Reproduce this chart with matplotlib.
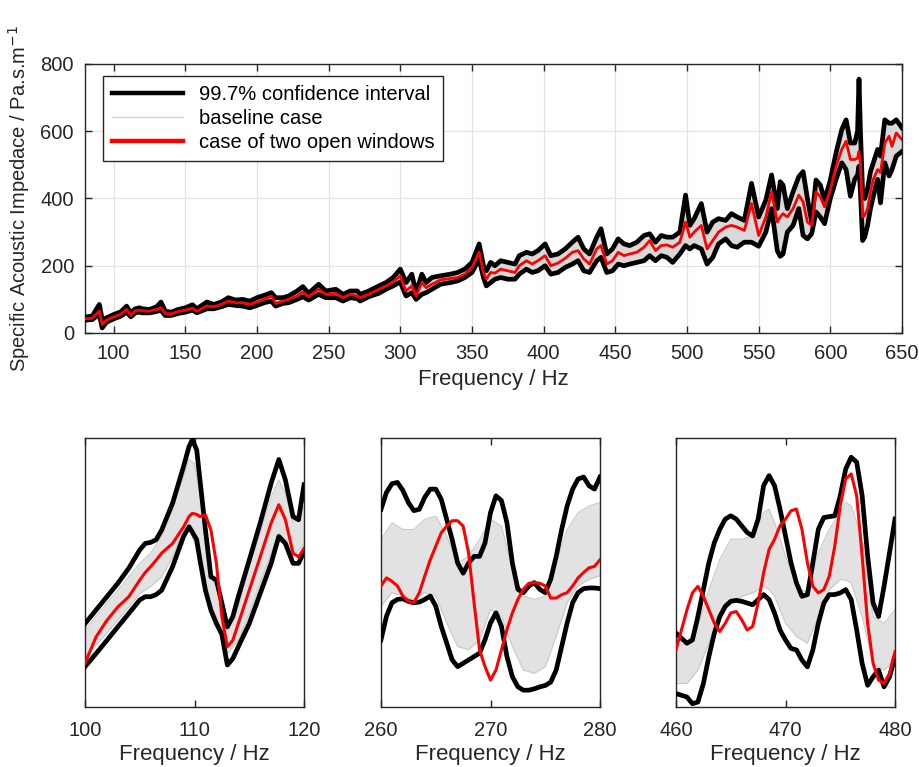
import matplotlib
matplotlib.use("Agg")
import matplotlib.pyplot as plt
from matplotlib.lines import Line2D

plt.rcParams['font.family'] = ['Liberation Sans', 'DejaVu Sans']

# ---------------- main panel data (80-650 Hz) ----------------
main_freq = [80, 85, 90, 92, 95, 100, 105, 109, 112, 115, 118, 120, 125, 130, 133, 136, 140, 145,
             150, 155, 158, 165, 170, 175, 180, 185, 190, 195, 200, 205, 210, 213, 218, 222, 228,
             232, 236, 243, 248, 255, 260, 265, 270, 272, 278, 285, 290, 295, 300, 302, 304, 308,
             311, 315, 318, 322, 328, 335, 340, 345, 350, 355, 358, 360, 363, 366, 370, 375, 380,
             383, 388, 392, 396, 401, 405, 410, 415, 420, 424, 428, 432, 437, 440, 444, 448, 452,
             456, 460, 465, 470, 474, 478, 482, 486, 490, 495, 499, 502, 505, 510, 514, 518, 522,
             527, 531, 535, 540, 545, 550, 555, 559, 563, 565, 567, 570, 574, 578, 581, 584, 587,
             590, 593, 596, 600, 604, 608, 611, 614, 617, 619, 620, 621, 622.5, 624, 626, 628,
             630, 633, 635, 638, 641, 643, 646, 650]
main_upper = [48, 50, 85, 40, 45, 55, 63, 80, 60, 72, 75, 72, 70, 78, 92, 65, 62, 70,
              75, 84, 72, 92, 85, 92, 105, 98, 100, 95, 105, 112, 120, 105, 105, 110, 125,
              138, 118, 145, 125, 130, 115, 125, 125, 115, 125, 140, 150, 165, 190, 170, 150, 175,
              120, 175, 150, 165, 170, 175, 180, 190, 210, 265, 200, 185, 210, 200, 215, 210, 205,
              230, 240, 235, 245, 265, 230, 235, 250, 270, 285, 250, 235, 285, 310, 235, 250, 280,
              265, 260, 270, 290, 295, 270, 290, 285, 285, 300, 410, 320, 340, 385, 300, 330, 340,
              335, 355, 345, 335, 445, 345, 395, 470, 370, 450, 440, 370, 420, 465, 480, 400, 330,
              455, 440, 395, 455, 536, 605, 634, 565, 565, 600, 755, 600, 420, 400, 430, 480,
              506, 546, 526, 634, 624, 624, 634, 610]
main_lower = [38, 40, 55, 15, 32, 42, 50, 62, 48, 60, 62, 60, 60, 64, 68, 52, 52, 58,
              62, 68, 60, 72, 72, 78, 85, 82, 80, 75, 82, 90, 95, 80, 88, 90, 100,
              108, 98, 115, 105, 105, 95, 105, 102, 95, 108, 118, 130, 140, 152, 130, 110, 120,
              100, 115, 120, 130, 145, 150, 155, 165, 180, 220, 165, 140, 150, 160, 165, 160, 160,
              175, 190, 180, 185, 200, 175, 180, 195, 205, 215, 185, 180, 215, 225, 180, 185, 205,
              200, 205, 210, 215, 230, 215, 230, 225, 210, 235, 260, 250, 260, 250, 205, 225, 265,
              280, 260, 255, 270, 270, 258, 300, 370, 245, 228, 235, 300, 320, 370, 290, 280, 295,
              360, 345, 325, 400, 457, 506, 486, 407, 457, 470, 496, 420, 275, 285, 320, 370,
              407, 457, 387, 506, 467, 486, 526, 540]
main_red = [42, 44, 65, 25, 38, 48, 56, 70, 52, 66, 68, 66, 65, 70, 75, 58, 57, 64,
            68, 74, 65, 80, 78, 85, 95, 90, 90, 85, 92, 100, 110, 88, 95, 100, 110,
            122, 108, 130, 115, 118, 105, 115, 110, 105, 115, 130, 140, 152, 170, 145, 125, 140,
            110, 150, 135, 145, 158, 162, 165, 175, 195, 240, 180, 160, 180, 178, 190, 185, 180,
            200, 215, 205, 215, 230, 200, 208, 222, 240, 245, 220, 205, 250, 260, 205, 215, 240,
            230, 235, 240, 255, 275, 245, 260, 262, 255, 270, 330, 285, 300, 320, 250, 275, 300,
            315, 320, 315, 305, 385, 290, 345, 420, 330, 345, 355, 345, 370, 410, 390, 330, 320,
            420, 405, 375, 425, 496, 546, 570, 516, 516, 520, 540, 500, 345, 350, 370, 420,
            457, 486, 477, 565, 585, 555, 595, 575]

# ---------------- inset 1 (100-120 Hz) ----------------
in1_freq = [100, 101, 102, 103, 104, 105, 105.5, 106, 106.5, 107, 108, 109, 109.5, 109.8, 110.2,
            110.5, 111, 111.5, 112, 112.5, 113, 113.5, 114, 115, 116, 117, 117.7, 118.3, 119, 119.5, 120]
in1_upper = [50.5, 53.0, 55.5, 58.0, 60.8, 64.2, 65.4, 65.6, 66.1, 67.9, 72.9, 79.7, 83.4, 84.7, 82.8,
             77.2, 67.9, 59.2, 58.6, 54.3, 49.9, 51.8, 55.5, 62.3, 69.2, 76.6, 81.0, 77.2, 70.4, 69.8, 76.3]
in1_lower = [42.5, 44.9, 47.4, 49.9, 52.4, 54.9, 55.5, 55.5, 55.9, 56.7, 61.1, 66.7, 68.5, 67.5, 66.1,
             62.3, 56.7, 53.0, 50.5, 48.5, 42.8, 44.0, 46.2, 50.5, 56.1, 61.7, 66.7, 65.4, 61.7, 61.7, 63.9]
in1_red = [43.1, 48.0, 51.1, 53.6, 55.5, 58.6, 60.0, 61.1, 62.3, 63.6, 65.4, 68.5, 70.4, 71.0, 70.8,
           70.4, 70.7, 67.9, 61.7, 51.8, 46.2, 47.4, 50.5, 56.7, 62.9, 69.2, 72.6, 69.8, 63.6, 62.9, 64.5]
in1_grey_freq = [100, 102, 104, 105, 106, 107, 108, 109, 109.5, 110, 110.5, 111, 111.5, 112, 112.5,
                 113, 114, 115, 116, 117, 117.7, 118.3, 119, 120]
in1_grey_top = [49.3, 54.3, 59.2, 61.7, 63.6, 66.7, 71.6, 77.8, 81.0, 80.3, 74.1, 66.1, 59.2, 57.4, 53.0,
                49.3, 53.6, 61.1, 67.3, 74.1, 77.2, 74.7, 69.2, 72.2]
in1_grey_bot = [44.3, 48.7, 53.6, 56.1, 57.4, 59.2, 62.9, 67.9, 68.5, 65.4, 61.7, 57.4, 53.6, 51.8, 49.3,
                44.9, 47.4, 52.4, 58.0, 63.6, 67.3, 66.1, 62.9, 65.4]

# ---------------- inset 2 (260-280 Hz) ----------------
in2_freq = [260 + 0.5 * i for i in range(41)]
in2_upper = [124.4, 126.9, 128.2, 128.4, 127.2, 125.4, 124.2, 124.4, 126.2, 127.4, 127.4, 125.9, 122.9,
             119.9, 116.4, 114.9, 116.4, 117.4, 117.4, 119.4, 123.9, 126.4, 125.7, 122.4, 116.4, 112.5,
             112.0, 113.0, 113.5, 112.5, 112.0, 114.0, 117.4, 121.4, 124.9, 127.4, 128.9, 129.2, 127.9,
             127.4, 129.2]
in2_lower = [105.0, 108.5, 110.5, 111.0, 111.1, 110.7, 110.5, 110.6, 111.0, 111.5, 110.0, 107.0, 104.5,
             102.0, 101.0, 101.5, 102.0, 102.5, 103.0, 105.0, 107.5, 109.0, 107.0, 102.5, 99.5, 98.0,
             97.5, 97.5, 97.7, 98.0, 98.2, 98.7, 100.5, 104.0, 107.5, 110.5, 112.0, 112.6, 112.7,
             112.7, 112.6]
in2_red = [113.0, 114.2, 113.7, 113.0, 111.5, 110.7, 110.5, 112.0, 114.5, 116.9, 118.9, 120.9, 121.9,
           122.7, 122.7, 121.9, 117.9, 110.5, 103.5, 101.0, 99.0, 100.5, 103.5, 106.5, 109.0, 111.0,
           112.5, 113.4, 113.5, 113.4, 113.0, 111.2, 111.2, 111.7, 112.0, 113.0, 114.2, 115.0, 115.7,
           115.9, 116.9]
in2_grey_freq = list(range(260, 281))
in2_grey_top = [119.9, 122.4, 121.4, 121.4, 122.9, 123.4, 120.4, 116.4, 117.4, 119.9, 122.9, 121.9,
                115.5, 111.5, 111.0, 111.5, 116.4, 121.4, 123.9, 124.9, 125.4]
in2_grey_bot = [110.0, 112.0, 111.5, 111.0, 112.0, 111.5, 107.5, 104.0, 103.5, 105.0, 109.5, 108.5,
                104.0, 100.5, 100.0, 101.0, 105.5, 110.5, 113.0, 114.0, 114.5]

# ---------------- inset 3 (460-480 Hz) ----------------
in3_freq = [460 + 0.5 * i for i in range(41)]
in3_upper = [218.4, 215.8, 213.2, 214.9, 227.1, 241.1, 255.1, 265.5, 272.5, 277.8, 279.5, 277.8, 274.3,
             270.8, 269.0, 277.8, 295.2, 300.4, 295.2, 283.0, 269.0, 255.1, 244.6, 237.6, 238.5, 255.1,
             272.5, 278.6, 279.1, 279.5, 290.0, 303.9, 310.0, 307.4, 290.0, 258.6, 234.1, 227.1, 242.8,
             260.3, 277.8]
in3_lower = [187.0, 186.1, 185.2, 181.7, 182.6, 192.2, 206.2, 218.4, 227.1, 232.4, 235.0, 235.5, 235.0,
             234.1, 233.2, 235.9, 238.5, 235.9, 228.9, 220.1, 214.9, 210.5, 209.7, 204.4, 200.9, 209.7,
             223.6, 234.1, 238.5, 238.5, 239.4, 241.1, 235.9, 220.1, 202.7, 191.3, 195.7, 199.2, 190.5,
             195.7, 206.2]
in3_red = [209.7, 220.1, 230.6, 239.4, 242.8, 237.6, 230.6, 223.6, 219.3, 223.6, 228.9, 229.7, 225.4,
           220.1, 221.9, 234.1, 249.8, 262.0, 267.3, 274.3, 277.8, 282.1, 283.0, 272.5, 255.1, 242.8,
           239.4, 241.1, 248.1, 263.8, 284.7, 298.7, 301.3, 290.0, 258.6, 223.6, 202.7, 194.0, 192.2,
           197.5, 208.8]
in3_grey_freq = [460, 461, 462, 463, 464, 465, 466, 467, 468, 468.5, 469, 470, 471, 472, 473, 474, 475,
                 475.5, 476, 477, 478, 479, 480]
in3_grey_top = [211.4, 213.2, 221.9, 241.1, 256.8, 267.3, 267.3, 269.0, 281.2, 283.0, 276.0, 258.6,
                242.8, 239.4, 260.3, 272.5, 281.2, 286.5, 284.7, 267.3, 227.1, 223.6, 230.6]
in3_grey_bot = [192.2, 192.2, 199.2, 213.2, 227.1, 234.1, 237.6, 239.4, 242.8, 241.0, 237.6, 223.6,
                216.7, 213.2, 227.1, 241.1, 246.3, 246.0, 244.6, 227.1, 202.7, 199.2, 204.4]

main_xticks = list(range(100, 651, 50))
main_yticks = [0, 200, 400, 600, 800]
legend_labels = ['99.7% confidence interval', 'baseline case', 'case of two open windows']

GREY_FILL = '#d9d9d9'
GREY_LINE = '#c9c9c9'
SPINE = '#262626'
TICK_FS = 14.5
LABEL_FS = 16
LEG_FS = 14.5

fig = plt.figure(figsize=(9.2, 7.67), dpi=100)


def style_axes(ax):
    for s in ax.spines.values():
        s.set_color(SPINE)
        s.set_linewidth(1.0)
    ax.tick_params(direction='in', top=True, right=True, labelsize=TICK_FS, colors=SPINE,
                   length=5, width=1.0, labelcolor='#262626', pad=8)


# main axes
ax = fig.add_axes([85 / 920, 1 - 333 / 767, 817 / 920, 269 / 767])
ax.fill_between(main_freq, main_lower, main_upper, color=GREY_FILL, lw=0, zorder=1)
ax.plot(main_freq, main_upper, color='black', lw=3.4, zorder=3, solid_joinstyle='round')
ax.plot(main_freq, main_lower, color='black', lw=3.4, zorder=3, solid_joinstyle='round')
ax.plot(main_freq, main_red, color='red', lw=2.0, zorder=4)
ax.set_xlim(80, 650)
ax.set_ylim(0, 800)
ax.set_xticks(main_xticks)
ax.set_yticks(main_yticks)
ax.grid(True, color='#e3e3e3', lw=0.9, zorder=0)
ax.set_axisbelow(True)
style_axes(ax)
ax.set_xlabel('Frequency / Hz', fontsize=LABEL_FS, color='#262626', labelpad=4)
ax.set_ylabel('Specific Acoustic Impedace / Pa.s.m$^{-1}$', fontsize=14.5, color='#262626',
              labelpad=6)

handles = [Line2D([], [], color='black', lw=3.2),
           Line2D([], [], color='#d0d0d0', lw=1.0),
           Line2D([], [], color='red', lw=3.2)]
leg = ax.legend(handles, legend_labels, loc='upper left', bbox_to_anchor=(0.022, 0.955),
                fontsize=LEG_FS, frameon=True, fancybox=False, edgecolor=SPINE, framealpha=1,
                handlelength=3.5, borderpad=0.45, labelspacing=0.25, handletextpad=0.8,
                borderaxespad=0)
leg.get_frame().set_linewidth(1.0)

insets = [
    (85, in1_freq, in1_upper, in1_lower, in1_red, in1_grey_freq, in1_grey_top, in1_grey_bot,
     (100, 120), (35, 85), [100, 110, 120]),
    (381, in2_freq, in2_upper, in2_lower, in2_red, in2_grey_freq, in2_grey_top, in2_grey_bot,
     (260, 280), (95, 135), [260, 270, 280]),
    (676, in3_freq, in3_upper, in3_lower, in3_red, in3_grey_freq, in3_grey_top, in3_grey_bot,
     (460, 480), (180, 320), [460, 470, 480]),
]
for (x0, f, up, lo, rd, gf, gt, gb, xl, yl, xt) in insets:
    a = fig.add_axes([x0 / 920, 1 - 707 / 767, 219 / 920, 269 / 767])
    a.fill_between(gf, gb, gt, color='#e2e2e2', lw=0, zorder=1)
    a.plot(gf, gt, color=GREY_LINE, lw=0.8, zorder=2)
    a.plot(gf, gb, color=GREY_LINE, lw=0.8, zorder=2)
    a.plot(f, up, color='black', lw=3.4, zorder=3)
    a.plot(f, lo, color='black', lw=3.4, zorder=3)
    a.plot(f, rd, color='red', lw=2.2, zorder=4)
    a.set_xlim(*xl)
    a.set_ylim(*yl)
    a.set_xticks(xt)
    a.set_yticks([])
    style_axes(a)
    a.tick_params(axis='y', left=False, right=False)
    a.tick_params(axis='x', pad=10)
    a.set_xlabel('Frequency / Hz', fontsize=LABEL_FS, color='#262626', labelpad=3)

fig.savefig('out.png', dpi=100)
